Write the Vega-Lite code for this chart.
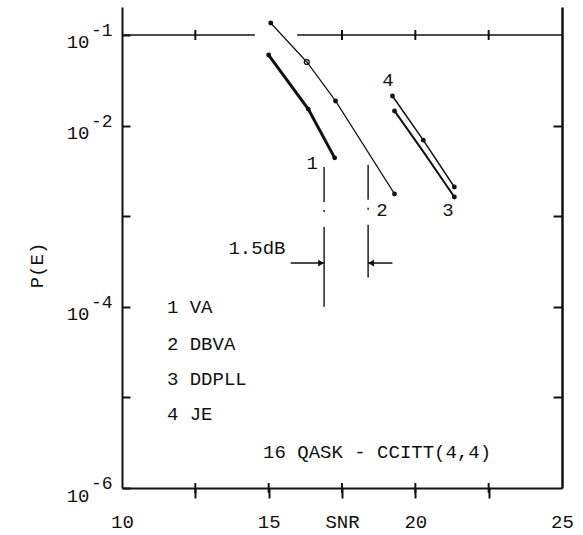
{
  "$schema": "https://vega.github.io/schema/vega-lite/v6.json",
  "width": 440,
  "height": 481,
  "autosize": {"type": "none"},
  "padding": {"left": 122, "top": 7, "right": 21, "bottom": 47},
  "background": "white",
  "config": {
    "view": {"stroke": null},
    "axis": {"grid": false, "labelFont": "Liberation Mono", "titleFont": "Liberation Mono", "labelColor": "#111", "titleColor": "#111", "domainColor": "#111", "tickColor": "#111", "labelFontSize": 19, "titleFontSize": 19, "titleFontWeight": "normal"},
    "text": {"font": "Liberation Mono", "fontSize": 19, "color": "#111"}
  },
  "datasets": {
    "curves": [
      {"s": "VA", "x": 15.0, "y": 0.060, "m": "dot"},
      {"s": "VA", "x": 16.35, "y": 0.0152, "m": "dot"},
      {"s": "VA", "x": 17.25, "y": 0.0044, "m": "dot"},
      {"s": "DBVA", "x": 15.07, "y": 0.1355, "m": "dot"},
      {"s": "DBVA", "x": 16.3, "y": 0.0503, "m": "open"},
      {"s": "DBVA", "x": 17.28, "y": 0.0187, "m": "dot"},
      {"s": "DBVA", "x": 19.29, "y": 0.00176, "m": "dot"},
      {"s": "DDPLL", "x": 19.29, "y": 0.0145, "m": "dot"},
      {"s": "DDPLL", "x": 20.3, "y": 0.0050, "m": "none"},
      {"s": "DDPLL", "x": 21.33, "y": 0.00163, "m": "dot"},
      {"s": "JE", "x": 19.22, "y": 0.0212, "m": "dot"},
      {"s": "JE", "x": 20.27, "y": 0.0069, "m": "dot"},
      {"s": "JE", "x": 21.33, "y": 0.0021, "m": "dot"}
    ],
    "topline": [{"x": 10, "x2": 14.53}, {"x": 15.97, "x2": 25}],
    "ticks": [
      {"x": 12.5, "y": 0.1}, {"x": 17.5, "y": 0.1}, {"x": 20, "y": 0.1}, {"x": 22.5, "y": 0.1},
      {"x": 12.5, "y": 1e-6}, {"x": 15, "y": 1e-6}, {"x": 17.5, "y": 1e-6}, {"x": 20, "y": 1e-6}, {"x": 22.5, "y": 1e-6}
    ],
    "dash": [{"x": 16.89, "y": 0.00349, "y2": 0.0001}, {"x": 18.39, "y": 0.0037, "y2": 0.00021}],
    "arrows": [{"x": 15.75, "x2": 16.89, "y": 0.000304, "d": "r"}, {"x": 19.22, "x2": 18.39, "y": 0.000304, "d": "l"}],
    "notes": [
      {"x": 11.53, "y": 0.0000855, "t": "1 VA"},
      {"x": 11.53, "y": 0.0000333, "t": "2 DBVA"},
      {"x": 11.53, "y": 0.0000137, "t": "3 DDPLL"},
      {"x": 11.53, "y": 0.00000564, "t": "4 JE"},
      {"x": 14.81, "y": 0.00000214, "t": "16 QASK - CCITT(4,4)"}
    ],
    "labels": [
      {"x": 16.48, "y": 0.00386, "t": "1"},
      {"x": 18.86, "y": 0.00117, "t": "2"},
      {"x": 21.11, "y": 0.00117, "t": "3"},
      {"x": 19.07, "y": 0.0319, "t": "4"},
      {"x": 14.6, "y": 0.000446, "t": "1.5dB"}
    ],
    "exps": [
      {"x": 10, "y": 0.1, "t": "-1"},
      {"x": 10, "y": 0.01, "t": "-2"},
      {"x": 10, "y": 0.0001, "t": "-4"},
      {"x": 10, "y": 0.000001, "t": "-6"}
    ]
  },
  "resolve": {"axis": {"x": "independent", "y": "independent"}},
  "layer": [
    {
      "data": {"name": "curves"},
      "mark": {"type": "line", "color": "#111"},
      "encoding": {
        "x": {"field": "x", "type": "quantitative", "scale": {"domain": [10, 25], "nice": false, "zero": false},
          "axis": {"orient": "bottom", "values": [10, 12.5, 15, 17.5, 20, 22.5, 25],
            "labelExpr": "datum.value==17.5?'SNR':(datum.value%5==0?''+datum.value:'')",
            "labelFlush": false, "labelOverlap": false, "tickSize": 10, "tickWidth": 2, "domainWidth": 2,
            "tickOpacity": {"condition": {"test": "datum.value==10||datum.value==25", "value": 0}, "value": 1},
            "labelPadding": 14, "labelBaseline": "top", "title": null}},
        "y": {"field": "y", "type": "quantitative", "scale": {"type": "log", "domain": [0.000001, 0.2035], "nice": false},
          "axis": {"orient": "left", "values": [0.000001, 0.00001, 0.0001, 0.001, 0.01, 0.1],
            "labelExpr": "((datum.value>0.05)||(datum.value>0.005&&datum.value<0.02)||(datum.value>0.00005&&datum.value<0.0002)||(datum.value<0.000002))?'10':''",
            "labelOverlap": false, "tickSize": -8, "tickWidth": 2, "domainWidth": 2,
            "labelPadding": 41, "labelBaseline": "alphabetic", "labelOffset": 13, "labelAlign": "right",
            "title": "P(E)", "titleX": -86, "titleY": 258, "titleBaseline": "middle", "titleAlign": "center"}},
        "detail": {"field": "s"},
        "strokeWidth": {"field": "s", "type": "nominal", "scale": {"type": "ordinal", "domain": ["VA", "DBVA", "DDPLL", "JE"], "range": [3, 1.2, 2, 1.5]}, "legend": null}
      }
    },
    {
      "data": {"name": "curves"},
      "transform": [{"filter": "datum.m=='dot'"}],
      "mark": {"type": "point", "filled": true, "size": 24, "color": "#111", "opacity": 1},
      "encoding": {
        "x": {"field": "x", "type": "quantitative", "axis": null},
        "y": {"field": "y", "type": "quantitative", "axis": null}
      }
    },
    {
      "data": {"name": "curves"},
      "transform": [{"filter": "datum.m=='open'"}],
      "mark": {"type": "point", "filled": false, "size": 24, "color": "#111", "strokeWidth": 1.3, "opacity": 1},
      "encoding": {
        "x": {"field": "x", "type": "quantitative", "axis": null},
        "y": {"field": "y", "type": "quantitative", "axis": null}
      }
    },
    {
      "data": {"name": "topline"},
      "mark": {"type": "rule", "color": "#111", "strokeWidth": 1.6},
      "encoding": {
        "x": {"field": "x", "type": "quantitative", "axis": null},
        "x2": {"field": "x2"},
        "y": {"datum": 0.1, "type": "quantitative", "axis": null}
      }
    },
    {
      "data": {"name": "ticks"},
      "mark": {"type": "tick", "orient": "vertical", "size": 10, "thickness": 2, "color": "#111", "opacity": 1},
      "encoding": {
        "x": {"field": "x", "type": "quantitative", "axis": null},
        "y": {"field": "y", "type": "quantitative", "axis": null}
      }
    },
    {
      "data": {"name": "dash"},
      "mark": {"type": "rule", "color": "#111", "strokeWidth": 1.4, "strokeDash": [35, 8, 2, 15, 150, 1]},
      "encoding": {
        "x": {"field": "x", "type": "quantitative", "axis": null},
        "y": {"field": "y", "type": "quantitative", "axis": null},
        "y2": {"field": "y2"}
      }
    },
    {
      "data": {"name": "arrows"},
      "mark": {"type": "rule", "color": "#111", "strokeWidth": 1.5},
      "encoding": {
        "x": {"field": "x", "type": "quantitative", "axis": null},
        "x2": {"field": "x2"},
        "y": {"field": "y", "type": "quantitative", "axis": null}
      }
    },
    {
      "data": {"name": "arrows"},
      "transform": [{"filter": "datum.d=='r'"}],
      "mark": {"type": "point", "shape": "triangle-right", "filled": true, "size": 45, "color": "#111", "opacity": 1, "xOffset": -3},
      "encoding": {
        "x": {"field": "x2", "type": "quantitative", "axis": null},
        "y": {"field": "y", "type": "quantitative", "axis": null}
      }
    },
    {
      "data": {"name": "arrows"},
      "transform": [{"filter": "datum.d=='l'"}],
      "mark": {"type": "point", "shape": "triangle-left", "filled": true, "size": 45, "color": "#111", "opacity": 1, "xOffset": 3},
      "encoding": {
        "x": {"field": "x2", "type": "quantitative", "axis": null},
        "y": {"field": "y", "type": "quantitative", "axis": null}
      }
    },
    {
      "data": {"name": "notes"},
      "mark": {"type": "text", "align": "left", "baseline": "alphabetic"},
      "encoding": {
        "x": {"field": "x", "type": "quantitative", "axis": null},
        "y": {"field": "y", "type": "quantitative", "axis": null},
        "text": {"field": "t"}
      }
    },
    {
      "data": {"name": "labels"},
      "mark": {"type": "text", "align": "center", "baseline": "middle"},
      "encoding": {
        "x": {"field": "x", "type": "quantitative", "axis": null},
        "y": {"field": "y", "type": "quantitative", "axis": null},
        "text": {"field": "t"}
      }
    },
    {
      "data": {"name": "exps"},
      "mark": {"type": "text", "align": "left", "baseline": "alphabetic", "dx": -31, "dy": 1, "fontSize": 18},
      "encoding": {
        "x": {"field": "x", "type": "quantitative", "axis": null},
        "y": {"field": "y", "type": "quantitative",
          "axis": {"orient": "right", "values": [0.00001, 0.0001, 0.001, 0.01], "labels": false, "tickSize": -9, "tickWidth": 2, "domainWidth": 2.5, "title": null}},
        "text": {"field": "t"}
      }
    }
  ]
}
